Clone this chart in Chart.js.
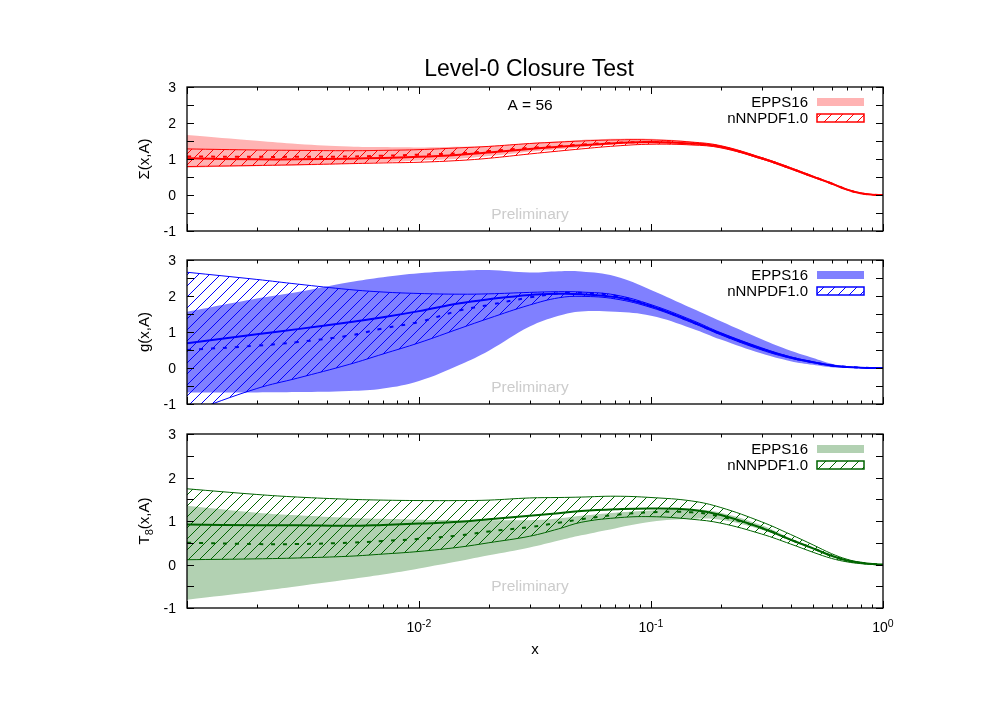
<!DOCTYPE html>
<html>
<head>
<meta charset="utf-8">
<title>Level-0 Closure Test</title>
<script src="https://cdn.jsdelivr.net/npm/chart.js@4.4.0/dist/chart.umd.min.js"></script>
<style>
  html, body { margin: 0; padding: 0; background: #fff; }
  #wrap { position: relative; width: 997px; height: 704px; }
  #wrap canvas { position: absolute; left: 0; top: 0; }
</style>
</head>
<body>
<div id="wrap">
  <canvas id="sigma" width="997" height="704"></canvas>
  <canvas id="gluon" width="997" height="704"></canvas>
  <canvas id="t8" width="997" height="704"></canvas>
</div>
<script>
// x grid shared by the three panels (log scale, 1e-3 .. 1)
const xValues = [0.001, 0.002, 0.003, 0.005, 0.007, 0.01, 0.015, 0.02, 0.03, 0.04, 0.05, 0.07, 0.1, 0.15, 0.2, 0.3, 0.4, 0.5, 0.6, 0.7, 0.8, 0.9, 1.0];

// Sigma(x,A)
const sigmaEppsUpper    = [1.67, 1.51, 1.42, 1.35, 1.33, 1.32, 1.34, 1.36, 1.44, 1.49, 1.53, 1.56, 1.56, 1.48, 1.37, 1.05, 0.77, 0.53, 0.33, 0.16, 0.06, 0.01, 0];
const sigmaEppsLower    = [0.76, 0.80, 0.82, 0.87, 0.91, 0.96, 1.01, 1.08, 1.20, 1.27, 1.32, 1.40, 1.42, 1.38, 1.30, 0.99, 0.72, 0.49, 0.31, 0.14, 0.05, 0.01, 0];
const sigmaEppsCentral  = [1.07, 1.06, 1.06, 1.07, 1.09, 1.12, 1.16, 1.22, 1.31, 1.36, 1.40, 1.45, 1.47, 1.43, 1.34, 1.02, 0.74, 0.51, 0.32, 0.15, 0.05, 0.01, 0];
const sigmaNnpdfUpper   = [1.28, 1.25, 1.24, 1.23, 1.24, 1.26, 1.31, 1.35, 1.43, 1.47, 1.50, 1.53, 1.53, 1.47, 1.37, 1.04, 0.76, 0.52, 0.33, 0.16, 0.06, 0.01, 0];
const sigmaNnpdfLower   = [0.79, 0.82, 0.84, 0.87, 0.89, 0.91, 0.96, 1.02, 1.14, 1.22, 1.28, 1.36, 1.41, 1.39, 1.31, 1.00, 0.72, 0.49, 0.31, 0.14, 0.05, 0.01, 0];
const sigmaNnpdfCentral = [1.02, 0.99, 0.99, 1.01, 1.03, 1.06, 1.12, 1.18, 1.28, 1.34, 1.38, 1.44, 1.47, 1.43, 1.34, 1.02, 0.74, 0.51, 0.32, 0.15, 0.05, 0.01, 0];

// g(x,A)
const gluonEppsUpper    = [1.56, 1.93, 2.11, 2.38, 2.52, 2.63, 2.70, 2.72, 2.65, 2.69, 2.68, 2.55, 2.17, 1.66, 1.30, 0.80, 0.48, 0.28, 0.12, 0.05, 0.01, 0, 0];
const gluonEppsLower    = [-0.68, -0.68, -0.67, -0.64, -0.57, -0.36, 0.09, 0.48, 1.15, 1.45, 1.57, 1.56, 1.45, 1.10, 0.79, 0.40, 0.19, 0.09, 0.02, 0.01, 0, 0, 0];
const gluonEppsCentral  = [0.50, 0.62, 0.72, 0.90, 1.10, 1.28, 1.60, 1.75, 1.96, 2.07, 2.09, 2.01, 1.72, 1.28, 0.94, 0.53, 0.29, 0.16, 0.07, 0.03, 0.01, 0, 0];
const gluonNnpdfUpper   = [2.66, 2.46, 2.33, 2.18, 2.11, 2.07, 2.05, 2.06, 2.10, 2.12, 2.11, 2.03, 1.76, 1.33, 0.98, 0.56, 0.31, 0.17, 0.08, 0.03, 0.01, 0, 0];
const gluonNnpdfLower   = [-1.25, -0.57, -0.28, 0.10, 0.39, 0.70, 1.10, 1.38, 1.75, 1.95, 1.99, 1.92, 1.68, 1.26, 0.92, 0.50, 0.27, 0.15, 0.06, 0.02, 0.01, 0, 0];
const gluonNnpdfCentral = [0.69, 0.94, 1.08, 1.27, 1.41, 1.58, 1.80, 1.91, 2.03, 2.06, 2.05, 1.97, 1.72, 1.29, 0.95, 0.53, 0.29, 0.16, 0.07, 0.03, 0.01, 0, 0];

// T8(x,A)
const t8EppsUpper    = [1.35, 1.19, 1.13, 1.07, 1.05, 1.03, 1.02, 1.02, 1.02, 1.06, 1.12, 1.19, 1.24, 1.27, 1.19, 0.90, 0.60, 0.38, 0.20, 0.10, 0.04, 0.01, 0];
const t8EppsLower    = [-0.81, -0.62, -0.50, -0.34, -0.23, -0.09, 0.08, 0.21, 0.39, 0.55, 0.67, 0.83, 0.98, 1.05, 1.03, 0.80, 0.55, 0.34, 0.18, 0.08, 0.03, 0.01, 0];
const t8EppsCentral  = [0.50, 0.47, 0.47, 0.50, 0.54, 0.59, 0.67, 0.76, 0.86, 0.96, 1.04, 1.14, 1.20, 1.20, 1.10, 0.84, 0.57, 0.37, 0.20, 0.09, 0.04, 0.01, 0];
const t8NnpdfUpper   = [1.74, 1.61, 1.55, 1.50, 1.48, 1.47, 1.47, 1.48, 1.53, 1.54, 1.55, 1.57, 1.54, 1.46, 1.31, 0.98, 0.69, 0.45, 0.25, 0.12, 0.05, 0.01, 0];
const t8NnpdfLower   = [0.11, 0.13, 0.15, 0.19, 0.24, 0.30, 0.40, 0.50, 0.65, 0.82, 0.97, 1.07, 1.10, 1.04, 0.95, 0.70, 0.47, 0.28, 0.14, 0.06, 0.02, 0, 0];
const t8NnpdfCentral = [0.92, 0.90, 0.90, 0.89, 0.91, 0.94, 0.98, 1.04, 1.12, 1.18, 1.23, 1.27, 1.29, 1.26, 1.14, 0.84, 0.57, 0.37, 0.20, 0.09, 0.04, 0.01, 0];

// ticks and labels
const yTickValues = [-1, -0.5, 0, 0.5, 1, 1.5, 2, 2.5, 3];
const yLabelValues = [-1, 0, 1, 2, 3];
const xMajorTicks = [0.001, 0.01, 0.1, 1];
const xMinorTicks = [0.002, 0.003, 0.004, 0.005, 0.006, 0.007, 0.008, 0.009,
                     0.02, 0.03, 0.04, 0.05, 0.06, 0.07, 0.08, 0.09,
                     0.2, 0.3, 0.4, 0.5, 0.6, 0.7, 0.8, 0.9];
const xLabelValues = [0.01, 0.1, 1];
const xLabelExponents = ['-2', '-1', '0'];
const legendLabels = ['EPPS16', 'nNNPDF1.0'];

const FONT = '"Liberation Sans", Arial, Helvetica, sans-serif';

// hatch "/" used for the nNNPDF band
function makeHatch(color) {
    const s = 11;
    const c = document.createElement('canvas');
    c.width = s; c.height = s;
    const g = c.getContext('2d');
    g.strokeStyle = color;
    g.lineWidth = 1;
    g.beginPath();
    g.moveTo(0, s); g.lineTo(s, 0);
    g.moveTo(-s / 2, s / 2); g.lineTo(s / 2, -s / 2);
    g.moveTo(s / 2, s * 1.5); g.lineTo(s * 1.5, s / 2);
    g.stroke();
    return g.createPattern(c, 'repeat');
}

function toPoints(values) {
    return xValues.map((x, i) => ({ x: x, y: values[i] }));
}

function drawParts(ctx, parts, cx, cy, rotate) {
    ctx.save();
    ctx.translate(cx, cy);
    if (rotate) ctx.rotate(-Math.PI / 2);
    ctx.textAlign = 'left';
    ctx.textBaseline = 'alphabetic';
    let total = 0;
    const widths = parts.map(p => {
        ctx.font = p.size + 'px ' + FONT;
        const w = ctx.measureText(p.text).width;
        total += w;
        return w;
    });
    let x = -total / 2;
    parts.forEach((p, i) => {
        ctx.font = p.size + 'px ' + FONT;
        ctx.fillStyle = p.color || '#000';
        ctx.fillText(p.text, x, p.dy);
        x += widths[i];
    });
    ctx.restore();
}

const panels = [
    {
        id: 'sigma', top: 87, bottom: 231, line: '#ff0000', band: '#ffb3b3',
        yTitle: [{ text: 'Σ(x,A)', size: 15, dy: 5 }],
        eppsUpper: sigmaEppsUpper, eppsLower: sigmaEppsLower, eppsCentral: sigmaEppsCentral,
        nnpdfUpper: sigmaNnpdfUpper, nnpdfLower: sigmaNnpdfLower, nnpdfCentral: sigmaNnpdfCentral,
        prelimY: 219, first: true
    },
    {
        id: 'gluon', top: 260, bottom: 404, line: '#0000ff', band: '#8080ff',
        yTitle: [{ text: 'g(x,A)', size: 15, dy: 5 }],
        eppsUpper: gluonEppsUpper, eppsLower: gluonEppsLower, eppsCentral: gluonEppsCentral,
        nnpdfUpper: gluonNnpdfUpper, nnpdfLower: gluonNnpdfLower, nnpdfCentral: gluonNnpdfCentral,
        prelimY: 392
    },
    {
        id: 't8', top: 434, bottom: 608, line: '#006400', band: '#b2d1b2',
        yTitle: [{ text: 'T', size: 15, dy: 5 }, { text: '8', size: 11, dy: 9 }, { text: '(x,A)', size: 15, dy: 5 }],
        eppsUpper: t8EppsUpper, eppsLower: t8EppsLower, eppsCentral: t8EppsCentral,
        nnpdfUpper: t8NnpdfUpper, nnpdfLower: t8NnpdfLower, nnpdfCentral: t8NnpdfCentral,
        prelimY: 591, last: true
    }
];

// frame, inward ticks, labels and legend, gnuplot style
function decorPlugin(p, hatch) {
    return {
        id: 'decor',
        afterDraw(chart) {
            const ctx = chart.ctx;
            const a = chart.chartArea;
            const xs = chart.scales.x;
            const ys = chart.scales.y;
            ctx.save();

            ctx.strokeStyle = '#000';
            ctx.lineWidth = 1;
            ctx.beginPath();
            xMajorTicks.concat(xMinorTicks).forEach(v => {
                const len = xMajorTicks.includes(v) ? 7 : 3.5;
                const px = Math.round(xs.getPixelForValue(v)) + 0.5;
                ctx.moveTo(px, a.bottom); ctx.lineTo(px, a.bottom - len);
                ctx.moveTo(px, a.top); ctx.lineTo(px, a.top + len);
            });
            yTickValues.forEach(v => {
                const py = Math.round(ys.getPixelForValue(v)) + 0.5;
                ctx.moveTo(a.left, py); ctx.lineTo(a.left + 7, py);
                ctx.moveTo(a.right, py); ctx.lineTo(a.right - 7, py);
            });
            ctx.stroke();
            ctx.lineWidth = 1.3;
            ctx.strokeRect(a.left, a.top, a.right - a.left, a.bottom - a.top);

            // y tick labels
            ctx.fillStyle = '#000';
            ctx.font = '14px ' + FONT;
            ctx.textAlign = 'right';
            ctx.textBaseline = 'alphabetic';
            yLabelValues.forEach(v => {
                ctx.fillText(String(v), a.left - 11, ys.getPixelForValue(v) + 5);
            });

            drawParts(ctx, p.yTitle, 144, (a.top + a.bottom) / 2, true);

            // legend
            const rows = [a.top + 15, a.top + 31];
            ctx.font = '15px ' + FONT;
            ctx.textAlign = 'right';
            legendLabels.forEach((t, i) => ctx.fillText(t, 808, rows[i] + 5.3));
            ctx.fillStyle = p.band;
            ctx.fillRect(817, rows[0] - 4, 47, 8);
            ctx.fillStyle = hatch;
            ctx.fillRect(817, rows[1] - 4, 47, 8);
            ctx.strokeStyle = p.line;
            ctx.lineWidth = 1.5;
            ctx.strokeRect(817, rows[1] - 4, 47, 8);

            // Preliminary
            ctx.fillStyle = '#cccccc';
            ctx.textAlign = 'center';
            ctx.font = '15.5px ' + FONT;
            ctx.fillText('Preliminary', 530, p.prelimY);

            if (p.first) {
                ctx.fillStyle = '#000';
                ctx.font = '23px ' + FONT;
                ctx.fillText('Level-0 Closure Test', 529, 76);
                ctx.font = '15.5px ' + FONT;
                ctx.fillText('A = 56', 530, 110);
            }
            if (p.last) {
                xLabelValues.forEach((v, i) => {
                    drawParts(ctx, [
                        { text: '10', size: 14, dy: 0 },
                        { text: xLabelExponents[i], size: 10.5, dy: -5.5 }
                    ], xs.getPixelForValue(v), 632, false);
                });
                ctx.fillStyle = '#000';
                ctx.font = '15px ' + FONT;
                ctx.textAlign = 'center';
                ctx.fillText('x', (a.left + a.right) / 2, 654);
            }
            ctx.restore();
        }
    };
}

function initPanel(p) {
    const canvas = document.getElementById(p.id);
    if (!canvas) return;
    const hatch = makeHatch(p.line);
    const none = 'rgba(0,0,0,0)';

    new Chart(canvas.getContext('2d'), {
        type: 'line',
        data: {
            datasets: [
                { label: 'EPPS16', data: toPoints(p.eppsUpper), fill: '+1', backgroundColor: p.band, borderColor: none, borderWidth: 0, order: 3 },
                { label: 'EPPS16 low', data: toPoints(p.eppsLower), fill: false, borderColor: none, borderWidth: 0, order: 3 },
                { label: 'nNNPDF1.0', data: toPoints(p.nnpdfUpper), fill: '+1', backgroundColor: hatch, borderColor: p.line, borderWidth: 1, order: 2 },
                { label: 'nNNPDF1.0 low', data: toPoints(p.nnpdfLower), fill: false, borderColor: p.line, borderWidth: 1, order: 2 },
                { label: 'EPPS16 central', data: toPoints(p.eppsCentral), fill: false, borderColor: p.line, borderWidth: 2, borderDash: [4, 8], order: 1 },
                { label: 'nNNPDF1.0 central', data: toPoints(p.nnpdfCentral), fill: false, borderColor: p.line, borderWidth: 2, order: 0 }
            ]
        },
        options: {
            responsive: false,
            animation: false,
            layout: {
                autoPadding: false,
                padding: { left: 187, right: 114, top: p.top, bottom: 704 - p.bottom }
            },
            scales: {
                x: { type: 'logarithmic', min: 0.001, max: 1, display: false },
                y: { type: 'linear', min: -1, max: 3, display: false }
            },
            elements: {
                point: { radius: 0 },
                line: { tension: 0.4 }
            },
            plugins: {
                legend: { display: false },
                tooltip: { enabled: false }
            }
        },
        plugins: [decorPlugin(p, hatch)]
    });
}

panels.forEach(initPanel);
</script>
</body>
</html>
